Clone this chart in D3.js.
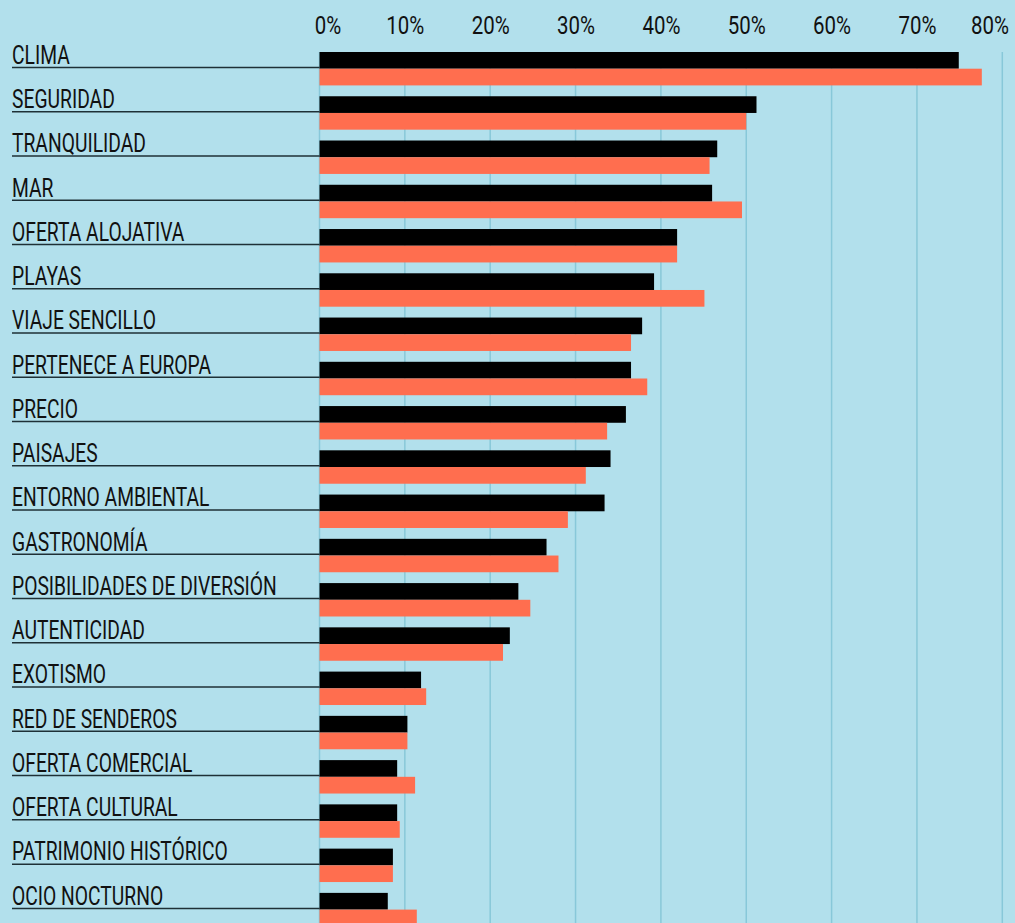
<!DOCTYPE html>
<html>
<head>
<meta charset="utf-8">
<script src="https://d3js.org/d3.v7.min.js"></script>
<style>
  body { margin: 0; background: #b2e0ec; }
  svg { display: block; }
</style>
</head>
<body>
<svg class="target" width="1015" height="923"></svg>
<script>

// motivos, en el orden del gráfico
categories = ['CLIMA', 'SEGURIDAD', 'TRANQUILIDAD', 'MAR', 'OFERTA ALOJATIVA', 'PLAYAS',
  'VIAJE SENCILLO', 'PERTENECE A EUROPA', 'PRECIO', 'PAISAJES', 'ENTORNO AMBIENTAL',
  'GASTRONOMÍA', 'POSIBILIDADES DE DIVERSIÓN', 'AUTENTICIDAD', 'EXOTISMO',
  'RED DE SENDEROS', 'OFERTA COMERCIAL', 'OFERTA CULTURAL', 'PATRIMONIO HISTÓRICO', 'OCIO NOCTURNO']

// % (barra negra / barra naranja)
blackValues  = [74.9, 51.2, 46.6, 46.0, 41.9, 39.2, 37.8, 36.5, 35.9, 34.1, 33.4, 26.6, 23.3, 22.3, 11.9, 10.3, 9.1, 9.1, 8.6, 8.0]
orangeValues = [77.6, 50.0, 45.7, 49.5, 41.9, 45.1, 36.5, 38.4, 33.7, 31.2, 29.1, 28.0, 24.7, 21.5, 12.5, 10.3, 11.2, 9.4, 8.6, 11.4]

tickValues = [0, 10, 20, 30, 40, 50, 60, 70, 80]

width = 1015
height = 923
font = 'Roboto, "Noto Sans", sans-serif'

data = categories.map((c, i) => ({ name: c, black: blackValues[i], orange: orangeValues[i] }))

const svg = d3.select('.target')
  .style('font-family', font)

svg.append('rect')
  .attr('width', width)
  .attr('height', height)
  .attr('fill', '#b2e0ec')

x = d3.scaleLinear()
  .domain([0, 80])
  .range([319.5, 1002.3])

y = d3.scaleBand()
  .domain(categories)
  .range([52, 926.3])
  .paddingInner(0.245)
  .paddingOuter(0)
  .align(0)

ySub = d3.scaleBand()
  .domain(['black', 'orange'])
  .range([0, y.bandwidth()])

// gridlines
svg.append('g')
  .selectAll('line')
  .data(tickValues)
  .join('line')
    .attr('x1', d => x(d))
    .attr('x2', d => x(d))
    .attr('y1', 52)
    .attr('y2', height)
    .attr('stroke', '#88c8d9')
    .attr('stroke-width', 1.5)

// eje superior
const axis = svg.append('g')
  .attr('transform', 'translate(0,33.5)')
  .call(d3.axisTop(x).tickValues(tickValues).tickSize(0).tickPadding(0).tickFormat(d => d + '%'))

axis.select('.domain').remove()
const tickText = axis.selectAll('text')
  .attr('fill', '#111')
  .style('font-family', font)
  .style('font-size', '25.5px')
  .style('font-weight', 400)
  .attr('dy', 0)
  .attr('dx', d => d === 0 ? 10 : d === 80 ? -16 : 0)

// the source font is condensed: squeeze horizontally ("10%" is ~38px wide)
const tickK = 38 / tickText.filter(d => d === 10).node().getComputedTextLength()
tickText.attr('transform', `scale(${ tickK },1)`)

// etiquetas y subrayado
const row = svg.append('g')
  .selectAll('g')
  .data(data)
  .join('g')
    .attr('transform', d => `translate(0,${ y(d.name) })`)

row.append('line')
  .attr('x1', 12)
  .attr('x2', x(0))
  .attr('y1', 15.5)
  .attr('y2', 15.5)
  .attr('stroke', '#1e3036')
  .attr('stroke-width', 1.5)

const label = row.append('text')
  .attr('fill', '#111')
  .style('font-size', '25px')
  .style('font-weight', 400)
  .text(d => d.name)

// longest label is ~265px wide in the reference
const labelK = 265 / label.filter(d => d.name === 'POSIBILIDADES DE DIVERSIÓN').node().getComputedTextLength()
label.attr('transform', `translate(12,11.8) scale(${ labelK },1)`)

// barras
row.selectAll('rect')
  .data(d => ['black', 'orange'].map(k => ({ key: k, value: d[k] })))
  .join('rect')
    .attr('x', x(0))
    .attr('y', d => ySub(d.key))
    .attr('width', d => x(d.value) - x(0))
    .attr('height', ySub.bandwidth())
    .attr('fill', d => d.key === 'black' ? '#000000' : '#ff6e4f')

</script>
</body>
</html>
